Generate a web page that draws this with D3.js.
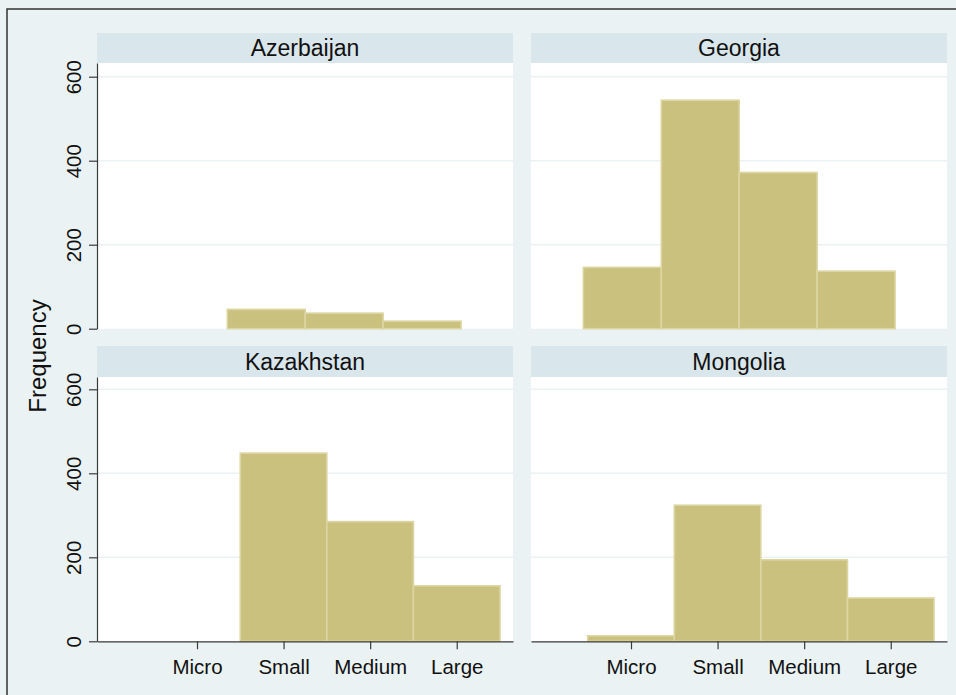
<!DOCTYPE html>
<html>
<head>
<meta charset="utf-8">
<script src="https://cdn.jsdelivr.net/npm/d3@7"></script>
<style>
  html, body { margin: 0; padding: 0; background: #ffffff; }
  svg { display: block; font-family: "Liberation Sans", Arial, Helvetica, sans-serif; }
</style>
</head>
<body>
<svg id="chart" width="956" height="695"></svg>
<script>
// ---- data ----
const categories = ["Micro", "Small", "Medium", "Large"];
const categoryValues = [1, 2, 3, 4];
const countries = ["Azerbaijan", "Georgia", "Kazakhstan", "Mongolia"];
const yTicks = [0, 200, 400, 600];

const azerbaijanEdges = [1.35, 2.25, 3.15, 4.05];
const azerbaijanFreq = [46, 37, 18];
const georgiaEdges = [0.45, 1.35, 2.25, 3.15, 4.05];
const georgiaFreq = [146, 544, 372, 137];
const kazakhstanEdges = [1.5, 2.5, 3.5, 4.5];
const kazakhstanFreq = [448, 285, 132];
const mongoliaEdges = [0.5, 1.5, 2.5, 3.5, 4.5];
const mongoliaFreq = [13, 324, 194, 103];

const yLabel = "Frequency";

// ---- layout ----
const W = 956, H = 695;
const svg = d3.select("#chart");
const colorBg = "#eaf2f3", colorStrip = "#d9e6eb", colorGrid = "#eaf2f3";
const barFill = "#cac17f", barStroke = "#dcd5a2", axisColor = "#3a3a3a";

svg.append("rect").attr("x", 0).attr("y", 0).attr("width", W).attr("height", H).attr("fill", colorBg);
svg.append("path").attr("d", `M7,${H} L7,9 L${W},9`).attr("fill", "none").attr("stroke", "#333").attr("stroke-width", 1.5);

const cols = [{x0: 97, x1: 513}, {x0: 531, x1: 947}];
const rows = [{h0: 33, top: 63, bottom: 328.7}, {h0: 346, top: 377, bottom: 641.3}];
const pxPerUnit = 0.42;

const panels = [
  {name: countries[0], edges: azerbaijanEdges, freq: azerbaijanFreq, r: 0, c: 0},
  {name: countries[1], edges: georgiaEdges, freq: georgiaFreq, r: 0, c: 1},
  {name: countries[2], edges: kazakhstanEdges, freq: kazakhstanFreq, r: 1, c: 0},
  {name: countries[3], edges: mongoliaEdges, freq: mongoliaFreq, r: 1, c: 1}
];

panels.forEach(p => {
  const col = cols[p.c], row = rows[p.r];
  const x = d3.scaleLinear().domain([-0.155, 4.65]).range([col.x0, col.x1]);
  const yMax = (row.bottom - row.top) / pxPerUnit;
  const y = d3.scaleLinear().domain([0, yMax]).range([row.bottom, row.top]);
  const g = svg.append("g");

  // header strip
  g.append("rect").attr("x", col.x0).attr("y", row.h0).attr("width", col.x1 - col.x0)
    .attr("height", row.top - row.h0).attr("fill", colorStrip);
  g.append("text").attr("x", (col.x0 + col.x1) / 2).attr("y", (row.h0 + row.top) / 2)
    .attr("dy", "0.36em").attr("text-anchor", "middle").attr("font-size", 23)
    .attr("fill", "#111").text(p.name);

  // plot area
  g.append("rect").attr("x", col.x0).attr("y", row.top).attr("width", col.x1 - col.x0)
    .attr("height", row.bottom - row.top).attr("fill", "#ffffff");

  // gridlines
  g.selectAll("line.grid").data(yTicks.filter(t => t > 0)).enter().append("line")
    .attr("x1", col.x0).attr("x2", col.x1)
    .attr("y1", d => y(d)).attr("y2", d => y(d))
    .attr("stroke", colorGrid).attr("stroke-width", 1.5);

  // bars
  const bins = p.freq.map((f, i) => ({x0: p.edges[i], x1: p.edges[i + 1], f}));
  g.selectAll("rect.bar").data(bins).enter().append("rect")
    .attr("x", d => x(d.x0)).attr("width", d => x(d.x1) - x(d.x0))
    .attr("y", d => y(d.f)).attr("height", d => y(0) - y(d.f))
    .attr("fill", barFill).attr("stroke", barStroke).attr("stroke-width", 1.6);

  // y axis (left column only)
  if (p.c === 0) {
    const ay = g.append("g").attr("transform", `translate(${col.x0},0)`)
      .call(d3.axisLeft(y).tickValues(yTicks).tickSize(8).tickSizeOuter(0).tickFormat(d3.format("d")));
    ay.select(".domain").attr("stroke", axisColor).attr("stroke-width", 1.2);
    ay.selectAll(".tick line").attr("stroke", axisColor).attr("stroke-width", 1.2);
    ay.selectAll(".tick text").attr("font-size", 20.5).attr("fill", "#111")
      .attr("font-family", "Liberation Sans, Arial, sans-serif")
      .attr("text-anchor", "middle").attr("x", null).attr("dy", null)
      .attr("transform", "translate(-24,0) rotate(-90)")
      .attr("dominant-baseline", "central");
  }

  // x axis (bottom row only)
  if (p.r === 1) {
    const ax = g.append("g").attr("transform", `translate(0,${row.bottom})`)
      .call(d3.axisBottom(x).tickValues(categoryValues).tickSize(8).tickSizeOuter(0)
        .tickFormat((d, i) => categories[i]));
    ax.select(".domain").attr("stroke", axisColor).attr("stroke-width", 1.2);
    ax.selectAll(".tick line").attr("stroke", axisColor).attr("stroke-width", 1.2);
    ax.selectAll(".tick text").attr("font-size", 20.5).attr("fill", "#111")
      .attr("font-family", "Liberation Sans, Arial, sans-serif")
      .attr("y", 25).attr("dy", "0.36em");
  }
});

// y axis title
svg.append("text").attr("transform", "translate(37,356) rotate(-90)")
  .attr("text-anchor", "middle").attr("dy", "0.36em").attr("font-size", 24)
  .attr("fill", "#111").text(yLabel);
</script>
</body>
</html>
